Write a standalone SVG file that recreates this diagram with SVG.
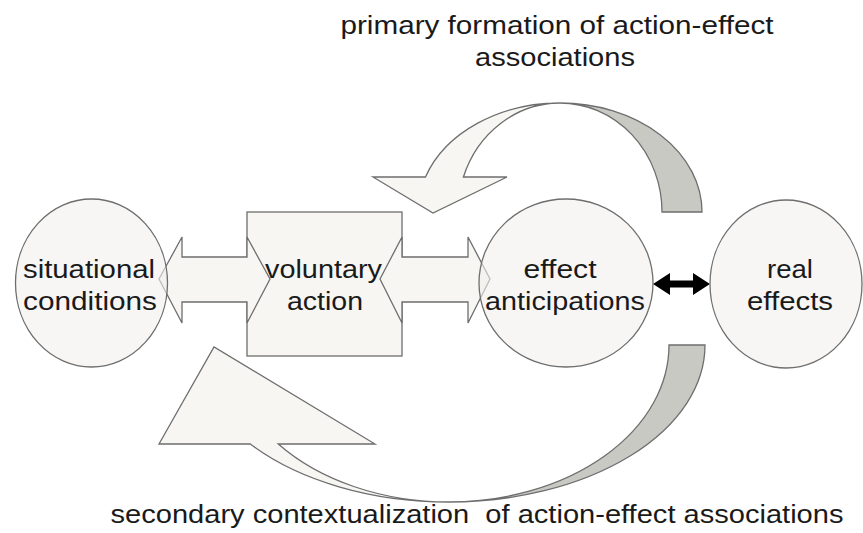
<svg xmlns="http://www.w3.org/2000/svg" width="863" height="533" viewBox="0 0 863 533">
  <style>
    .shape { fill: #F7F6F3; stroke: #6E6E6E; stroke-width: 1.3; }
    .node { fill: #F2F0EC; fill-opacity: 0.6; stroke: #6E6E6E; stroke-width: 1.3; }
    .back { fill: #C9C9C4; stroke: #6E6E6E; stroke-width: 1.3; }
    .link { fill: #F7F6F3; stroke: #6E6E6E; stroke-width: 1.3; }
    .bi { fill: #000000; stroke: none; }
    text { font-family: "Liberation Sans", Arial, sans-serif; font-size: 26px; fill: #1A1A1A; text-anchor: middle; }
  </style>
  <rect width="863" height="533" fill="#FFFFFF"/>

  <g id="voluntary-action">
    <rect class="shape" x="247" y="212" width="155" height="144"/>
  </g>

  <g id="connectors">
    <polygon id="arrow-situation-action" class="link" points="159,279 182,237 182,257 247,257 247,237 270,279 247,323 247,302 182,302 182,323"/>
    <polygon id="arrow-action-effect" class="link" points="380,279 402,237 402,257 468,257 468,237 490,279 468,323 468,302 402,302 402,323"/>
    <polygon id="arrow-anticipation-real" class="bi" points="653,284 670,273 670,280.5 693,280.5 693,273 710,284 693,295 693,287.5 670,287.5 670,295"/>
    <g id="primary-formation-arrow">
      <path class="back" d="M560,103 A142,109 0 0 1 702,212 L662,212 A102,109 0 0 0 560,103 Z"/>
      <path class="link" d="M560,103 A142,109 0 0 0 425.5,177 L373,177 L433,213 L507,177 L463.4,177 A102,109 0 0 1 560,103 Z"/>
    </g>
    <g id="secondary-contextualization-arrow">
      <path class="back" d="M449,502 A256,157 0 0 0 705,345 L669,345 A220,157 0 0 1 449,502 Z"/>
      <path class="link" d="M449,502 A256,157 0 0 1 250.3,444 L159,444 L214,347 L375,444 L278.3,444 A220,157 0 0 0 449,502 Z"/>
    </g>
  </g>

  <g id="situational-conditions">
    <ellipse class="node" cx="91.5" cy="283" rx="76" ry="84"/>
    <text x="89" y="278" textLength="132" lengthAdjust="spacingAndGlyphs">situational</text>
    <text x="90" y="310" textLength="134" lengthAdjust="spacingAndGlyphs">conditions</text>
  </g>

  <g id="voluntary-action-label">
    <text x="323.5" y="278" textLength="117" lengthAdjust="spacingAndGlyphs">voluntary</text>
    <text x="325" y="310" textLength="76" lengthAdjust="spacingAndGlyphs">action</text>
  </g>

  <g id="effect-anticipations">
    <ellipse class="node" cx="566" cy="283" rx="87" ry="84"/>
    <text x="560" y="278" textLength="73" lengthAdjust="spacingAndGlyphs">effect</text>
    <text x="565" y="310" textLength="160" lengthAdjust="spacingAndGlyphs">anticipations</text>
  </g>

  <g id="real-effects">
    <ellipse class="node" cx="786" cy="284" rx="76" ry="84"/>
    <text x="790" y="278" textLength="46" lengthAdjust="spacingAndGlyphs">real</text>
    <text x="790" y="310" textLength="86" lengthAdjust="spacingAndGlyphs">effects</text>
  </g>

  <g id="label-primary">
    <text x="557" y="34" textLength="433" lengthAdjust="spacingAndGlyphs">primary formation of action-effect</text>
    <text x="555" y="66" textLength="160" lengthAdjust="spacingAndGlyphs">associations</text>
  </g>

  <g id="label-secondary">
    <text x="477" y="523" textLength="733" lengthAdjust="spacingAndGlyphs" xml:space="preserve" style="white-space:pre">secondary contextualization  of action-effect associations</text>
  </g>
</svg>
